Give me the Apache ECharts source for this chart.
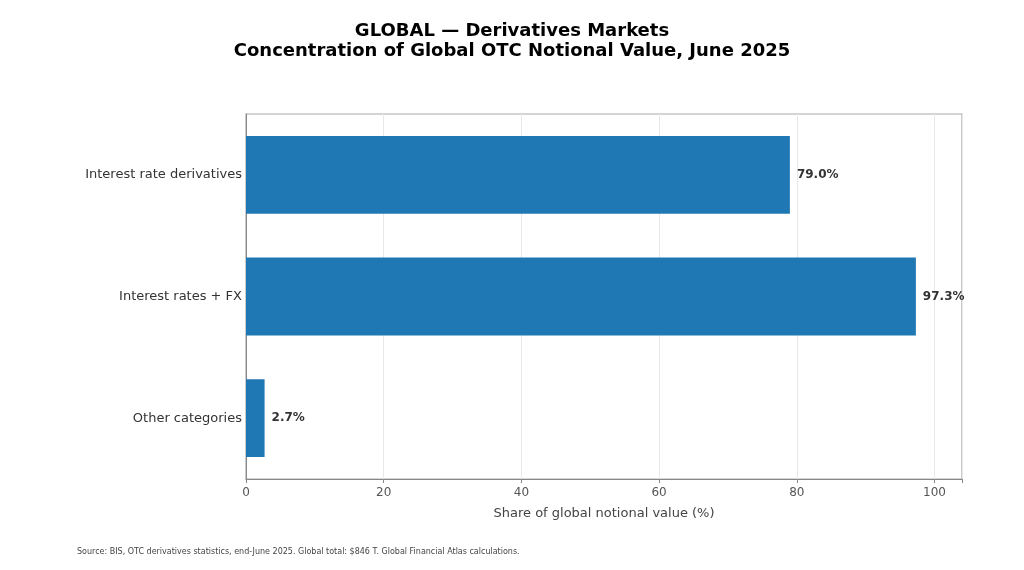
<!DOCTYPE html>
<html lang="en">
<head>
<meta charset="UTF-8">
<title>OTC concentration</title>
<script src="https://cdn.jsdelivr.net/npm/echarts@6/dist/echarts.min.js"></script>
</head>
<body style="margin:0">
<div id="main" style="width:1024px;height:570px;"></div>
<script>
var categories = ['Other categories', 'Interest rates + FX', 'Interest rate derivatives'];
var shares = [2.7, 97.3, 79.0];
var xTicks = [0, 20, 40, 60, 80, 100];

var font = 'DejaVu Sans';
var chart = echarts.init(document.getElementById('main'));
chart.setOption({
    textStyle: { fontFamily: font },
    title: {
        text: 'GLOBAL — Derivatives Markets\nConcentration of Global OTC Notional Value, June 2025',
        left: 'center', top: 16,
        textStyle: { fontFamily: font, fontSize: 18, fontWeight: 'bold', color: '#000', lineHeight: 20 }
    },
    graphic: [{
        type: 'text', left: 77, top: 548,
        style: { text: 'Source: BIS, OTC derivatives statistics, end-June 2025. Global total: $846 T. Global Financial Atlas calculations.',
            fontFamily: font, fontSize: 8, fill: '#444' }
    }],
    grid: { left: 246, right: 62, top: 114, bottom: 91, show: true, borderColor: '#aaa', borderWidth: 1.2 },
    xAxis: {
        type: 'value', min: 0, max: 104, interval: 20,
        name: 'Share of global notional value (%)', nameLocation: 'middle', nameGap: 28,
        nameTextStyle: { fontFamily: font, fontSize: 13, color: '#444' },
        axisLine: { show: true, lineStyle: { color: '#888' } },
        axisTick: { show: true, length: 4, lineStyle: { color: '#888' } },
        axisLabel: { color: '#555', fontSize: 12, formatter: function (v) { return xTicks.indexOf(v) >= 0 ? v : ''; } },
        splitLine: { lineStyle: { color: '#e8e8e8' } }
    },
    yAxis: {
        type: 'category', data: categories,
        axisLine: { lineStyle: { color: '#888' } },
        axisTick: { show: false },
        axisLabel: { color: '#333', fontSize: 13, margin: 4 }
    },
    series: [{
        type: 'bar', data: shares, barCategoryGap: '36%',
        itemStyle: { color: '#1f77b4' },
        label: { show: true, position: 'right', distance: 7, fontWeight: 'bold', fontSize: 12, color: '#333',
            formatter: function (p) { return p.value.toFixed(1) + '%'; } }
    }]
});
</script>
</body>
</html>
